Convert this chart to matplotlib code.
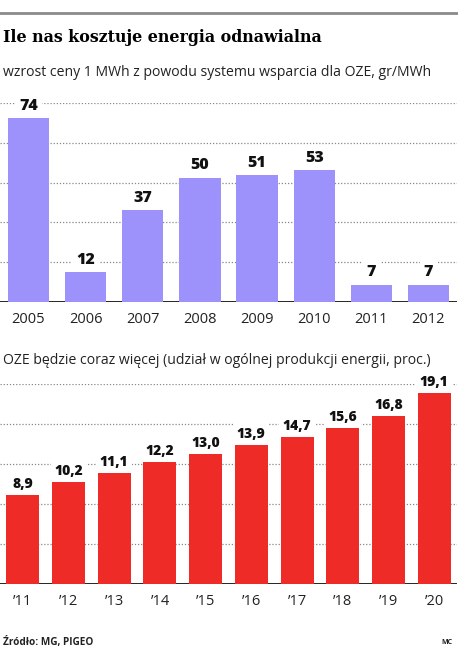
import matplotlib.pyplot as plt
import matplotlib.lines as mlines

years = ["2005", "2006", "2007", "2008", "2009", "2010", "2011", "2012"]
price_rise = [74, 12, 37, 50, 51, 53, 7, 7]

share_labels = ["’11", "’12", "’13", "’14", "’15", "’16", "’17", "’18", "’19", "’20"]
share = [8.9, 10.2, 11.1, 12.2, 13.0, 13.9, 14.7, 15.6, 16.8, 19.1]

purple = "#9d92fb"
red = "#ee2b27"

fig = plt.figure(figsize=(4.58, 6.46), dpi=100)
W, H = 458, 646

def px(x0, y_top, x1, y_bot):
    return [x0 / W, 1 - y_bot / H, (x1 - x0) / W, (y_bot - y_top) / H]

# top rule
fig.add_artist(mlines.Line2D([0, 1], [1 - 13 / H, 1 - 13 / H], color="#8a8a8a", lw=2))

fig.text(3 / W, 1 - 38 / H, "Ile nas kosztuje energia odnawialna", family="DejaVu Serif",
         weight="bold", fontsize=11.4, va="center", ha="left")
fig.text(3 / W, 1 - 72 / H, "wzrost ceny 1 MWh z powodu systemu wsparcia dla OZE, gr/MWh",
         family="Open Sans", fontsize=10.1, va="center", ha="left", color="#222")
fig.text(3 / W, 1 - 360 / H, "OZE będzie coraz więcej (udział w ogólnej produkcji energii, proc.)",
         family="Open Sans", fontsize=10.1, va="center", ha="left", color="#222")
fig.text(3 / W, 1 - 642 / H, "Źródło: MG, PIGEO", family="Open Sans", weight="bold",
         fontsize=7.2, va="center", ha="left", color="#222")
fig.text(452 / W, 1 - 642 / H, "MC", family="Open Sans", weight="bold",
         fontsize=5, va="center", ha="right", color="#222")


def draw(ax, labels, values, color, ymax, step, fmt, lab_size, tick_size):
    x = list(range(len(values)))
    ax.set_xlim(-0.5, len(values) - 0.5)
    ax.set_ylim(0, ymax)
    ticks = [step * k for k in range(1, int(round(ymax / step)) + 1)]
    for t in ticks:
        ax.axhline(t, color="#888", lw=0.9, ls=(0, (1, 1.5)), zorder=0)
    ax.axhline(0, color="#111", lw=2, zorder=1)
    ax.bar(x, values, width=0.72, color=color, zorder=2)
    for xi, v in zip(x, values):
        ax.annotate(fmt(v), (xi, v), xytext=(0, 3), textcoords="offset points",
                    ha="center", va="bottom", fontsize=lab_size, weight="heavy",
                    family="Open Sans", color="#111", zorder=3,
                    bbox=dict(boxstyle="square,pad=0.25", fc="white", ec="none"))
    ax.set_xticks(x)
    ax.set_xticklabels(labels, family="Open Sans", fontsize=tick_size, color="#222")
    ax.tick_params(axis="x", length=0, pad=7)
    ax.set_yticks([])
    for s in ax.spines.values():
        s.set_visible(False)
    ax.patch.set_alpha(0)


ax1 = fig.add_axes(px(0, 103, 457, 302))
draw(ax1, years, price_rise, purple, 80, 16, lambda v: str(v), 11.5, 10.5)

ax2 = fig.add_axes(px(0, 384, 457, 584))
draw(ax2, share_labels, share, red, 20, 4, lambda v: f"{v:.1f}".replace(".", ","), 10, 10.5)

fig.savefig("out.png", dpi=100)
